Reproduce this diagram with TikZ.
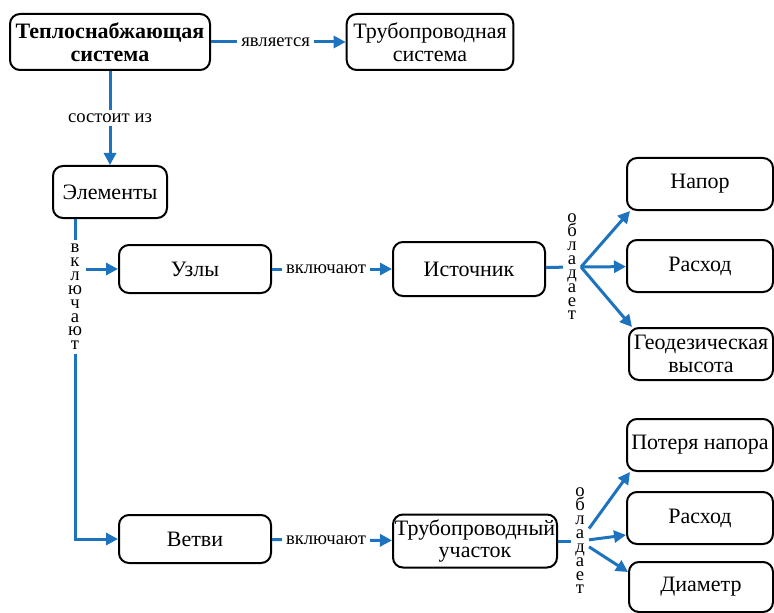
\documentclass[tikz,border=0pt]{standalone}
\usepackage{fontspec}
\setmainfont{Liberation Serif}
\usetikzlibrary{arrows.meta}
\definecolor{linkblue}{RGB}{30,115,190}

\tikzset{
  box/.style={draw, line width=1.5pt, rounded corners=7.5pt, align=center, inner sep=0pt,
    font=\fontsize{16.5}{17}\selectfont},
  link/.style={draw=linkblue, line width=2.25pt, -{Triangle[length=9pt,width=9pt]}},
  plain/.style={draw=linkblue, line width=2.25pt},
  lbl/.style={fill=white, inner sep=3pt, font=\fontsize{14}{14}\selectfont},
  vlbl/.style={fill=white, inner xsep=3pt, inner ysep=3pt, align=center,
    font=\fontsize{14}{10.4}\selectfont},
}

\begin{document}
\begin{tikzpicture}[x=0.75pt,y=-0.75pt]
\useasboundingbox (0,0) rectangle (774,613);

% boxes
\node[box, minimum width=150pt, minimum height=42pt,
  font=\fontsize{16.5}{17}\selectfont\bfseries] (teplo) at (110,42) {Теплоснабжающая\\система};
\node[box, minimum width=125pt, minimum height=42pt] (truba) at (430,42) {Трубопроводная\\система};
\node[box, minimum width=85.5pt, minimum height=39pt] (elem) at (110,192) {Элементы};
\node[box, minimum width=114pt, minimum height=36pt] (uzly) at (195,269) {Узлы};
\node[box, minimum width=114pt, minimum height=40.5pt] (ist) at (469,269) {Источник};
\node[box, minimum width=109.5pt, minimum height=39pt] (napor) at (700,184) {Напор};
\node[box, minimum width=109.5pt, minimum height=39pt] (rashod1) at (700,266) {Расход};
\node[box, minimum width=108pt, minimum height=39pt] (geo) at (701,354) {Геодезическая\\высота};
\node[box, minimum width=114pt, minimum height=36pt] (vetvi) at (195,539) {Ветви};
\node[box, minimum width=123pt, minimum height=39.75pt] (uch) at (475,541) {Трубопроводный\\участок};
\node[box, minimum width=109.5pt, minimum height=39pt] (poter) at (700,445) {Потеря напора};
\node[box, minimum width=109.5pt, minimum height=39pt] (rashod2) at (700,518) {Расход};
\node[box, minimum width=108pt, minimum height=37.5pt] (diam) at (701,587) {Диаметр};

% links
\draw[link] (teplo) -- node[lbl, pos=0.48] {является} (truba);
\draw[link] (teplo) -- node[lbl] {состоит из} (elem);

\draw[link] ([xshift=-26.25pt]elem.south) |- (vetvi);
\node[vlbl] (vkl) at (75,297) {в\\к\\л\\ю\\ч\\а\\ю\\т};
\draw[link] (vkl.east |- uzly) -- (uzly);

\draw[link] (uzly) -- node[lbl, pos=0.45] {включают} (ist);
\draw[link] (vetvi) -- node[lbl, pos=0.45] {включают} (uch);

% source properties
\node[vlbl] (obl1) at (572,267) {о\\б\\л\\а\\д\\а\\е\\т};
\draw[plain] (ist) -- (obl1);
\draw[link] (obl1.east) -- ([xshift=3pt]napor.south west);
\draw[link] (obl1.east) -- (rashod1);
\draw[link] (obl1.east) -- ([xshift=3pt]geo.north west);

% pipe section properties
\node[vlbl] (obl2) at (580,541) {о\\б\\л\\а\\д\\а\\е\\т};
\draw[plain] (uch) -- (obl2);
\draw[link] (obl2) -- ([xshift=3pt]poter.south west);
\draw[link] (obl2) -- ([yshift=-12.75pt]rashod2.west);
\draw[link] (obl2) -- ([yshift=11.25pt]diam.west);

\end{tikzpicture}
\end{document}
